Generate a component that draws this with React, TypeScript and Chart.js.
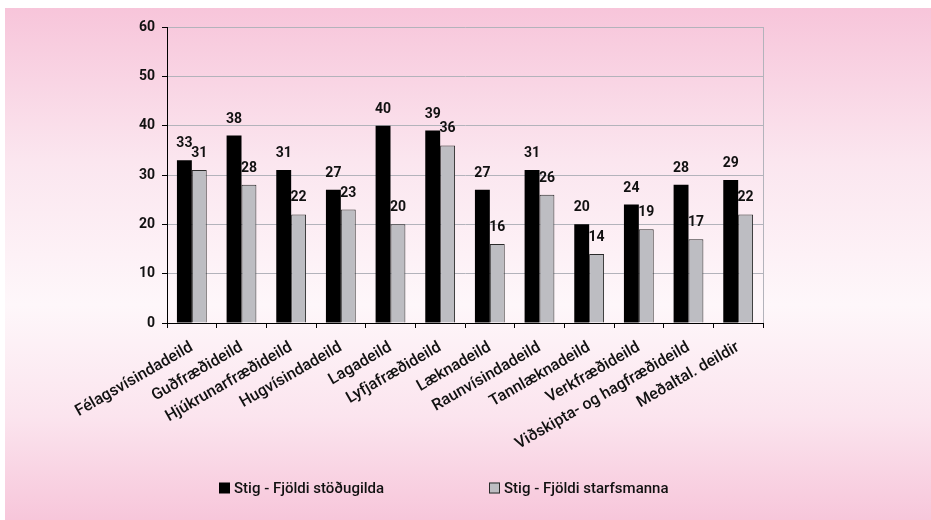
import React, { useEffect, useRef } from "react";
import { Chart, registerables } from "chart.js";

Chart.register(...registerables);

const categories = [
  "Félagsvísindadeild",
  "Guðfræðideild",
  "Hjúkrunarfræðideild",
  "Hugvísindadeild",
  "Lagadeild",
  "Lyfjafræðideild",
  "Læknadeild",
  "Raunvísindadeild",
  "Tannlæknadeild",
  "Verkfræðideild",
  "Viðskipta- og hagfræðideild",
  "Meðaltal. deildir",
];
const seriesNames = ["Stig - Fjöldi stöðugilda", "Stig - Fjöldi starfsmanna"];
const stodugildi = [33, 38, 31, 27, 40, 39, 27, 31, 20, 24, 28, 29];
const starfsmenn = [31, 28, 22, 23, 20, 36, 16, 26, 14, 19, 17, 22];
const yMin = 0;
const yMax = 60;
const yStep = 10;

const FONT = "Roboto";

const dataLabelPlugin = {
  id: "dataLabels",
  afterDatasetsDraw(chart: any) {
    const ctx = chart.ctx;
    ctx.save();
    ctx.font = `bold 14px ${FONT}`;
    ctx.fillStyle = "#111";
    ctx.textAlign = "center";
    ctx.textBaseline = "alphabetic";
    chart.data.datasets.forEach((ds: any, i: number) => {
      const meta = chart.getDatasetMeta(i);
      meta.data.forEach((el: any, j: number) => {
        ctx.fillText(String(ds.data[j]), el.x, el.y - 13);
      });
    });
    ctx.restore();
  },
};

const frameRightPlugin = {
  id: "frameRight",
  beforeDatasetsDraw(chart: any) {
    const { ctx, chartArea } = chart;
    ctx.save();
    ctx.strokeStyle = "#b3b3bb";
    ctx.lineWidth = 1;
    ctx.beginPath();
    ctx.moveTo(Math.round(chartArea.right) + 0.5, chartArea.top);
    ctx.lineTo(Math.round(chartArea.right) + 0.5, chartArea.bottom);
    ctx.stroke();
    ctx.restore();
  },
};

const legendPlugin = {
  id: "customLegend",
  afterDraw(chart: any) {
    const ctx = chart.ctx;
    const yc = 480;
    const starts = [214, 484];
    ctx.save();
    ctx.font = `500 15px ${FONT}`;
    ctx.textBaseline = "middle";
    ctx.textAlign = "left";
    chart.data.datasets.forEach((ds: any, i: number) => {
      const x = starts[i];
      ctx.fillStyle = ds.backgroundColor;
      ctx.fillRect(x, yc - 5.5, 11, 11);
      if (ds.borderWidth) {
        ctx.strokeStyle = ds.borderColor;
        ctx.lineWidth = 1;
        ctx.strokeRect(x + 0.5, yc - 5, 10, 10);
      }
      ctx.fillStyle = "#111";
      ctx.fillText(ds.label, x + 15, yc + 1);
    });
    ctx.restore();
  },
};

export default function App() {
  const canvasRef = useRef<HTMLCanvasElement | null>(null);

  useEffect(() => {
    if (!canvasRef.current) return;
    const chart = new Chart(canvasRef.current, {
      type: "bar",
      data: {
        labels: categories,
        datasets: [
          {
            label: seriesNames[0],
            data: stodugildi,
            backgroundColor: "#000000",
            borderWidth: 0,
            categoryPercentage: 0.6,
            barPercentage: 1,
          },
          {
            label: seriesNames[1],
            data: starfsmenn,
            backgroundColor: "#bdbdc2",
            borderColor: "#2a2a2a",
            borderWidth: 1,
            categoryPercentage: 0.6,
            barPercentage: 1,
          },
        ],
      },
      options: {
        responsive: false,
        maintainAspectRatio: false,
        animation: false,
        layout: { padding: { left: 0, right: 168, top: 19, bottom: 0 } },
        plugins: {
          legend: { display: false },
          tooltip: { enabled: false },
          title: { display: false },
        },
        scales: {
          x: {
            offset: true,
            grid: {
              offset: true,
              drawOnChartArea: false,
              drawTicks: true,
              tickLength: 5,
              tickColor: "#000",
            },
            border: { color: "#000", width: 1 },
            ticks: {
              autoSkip: false,
              minRotation: 30,
              maxRotation: 30,
              color: "#111",
              padding: 10,
              font: { family: FONT, size: 16, weight: "500" },
            },
            afterFit: (s: any) => {
              s.height = 197;
            },
          },
          y: {
            min: yMin,
            max: yMax,
            ticks: {
              stepSize: yStep,
              color: "#111",
              padding: 7,
              font: { family: FONT, size: 14, weight: "bold" },
            },
            grid: {
              color: "#b3b3bb",
              lineWidth: 1,
              tickColor: "#000",
              tickLength: 5,
            },
            border: { color: "#000", width: 1 },
            afterFit: (s: any) => {
              s.width = 162;
            },
          },
        },
      },
      plugins: [frameRightPlugin, dataLabelPlugin, legendPlugin],
    });
    return () => chart.destroy();
  }, []);

  return (
    <div
      style={{
        position: "absolute",
        left: 5,
        top: 8,
        width: 926,
        height: 512,
        background:
          "linear-gradient(to bottom, #f7c5da 0%, #fbe6ef 30%, #fef7fa 58%, #fbe4ee 80%, #f7c6da 100%)",
      }}
    >
      <canvas ref={canvasRef} width={926} height={512} style={{ display: "block" }} />
    </div>
  );
}
